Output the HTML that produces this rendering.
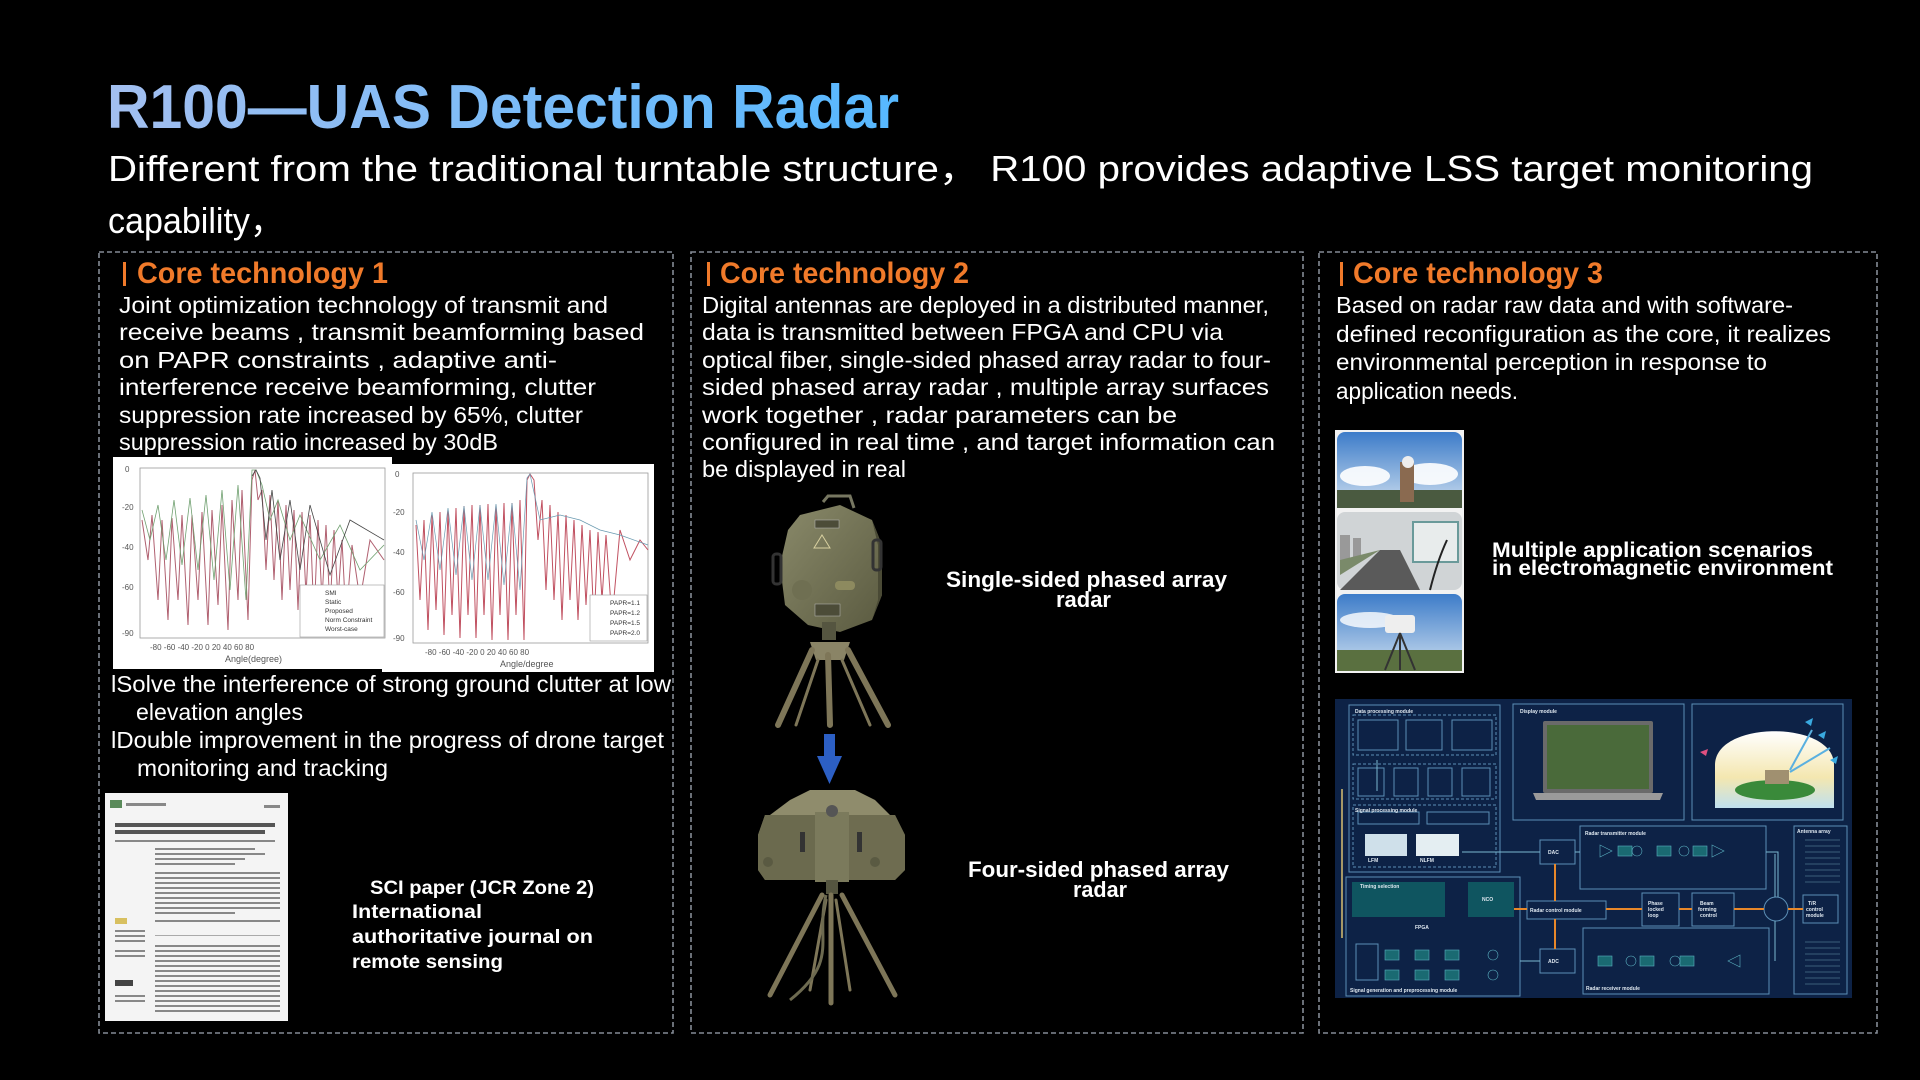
<!DOCTYPE html>
<html><head><meta charset="utf-8"><style>
html,body{margin:0;padding:0;background:#000;}
svg{display:block;}
text{font-family:"Liberation Sans","Noto Sans CJK SC",sans-serif;}
</style></head><body>
<svg width="1920" height="1080" viewBox="0 0 1920 1080" xmlns="http://www.w3.org/2000/svg">
<defs>
<linearGradient id="tg" x1="0" x2="1" y1="0" y2="0"><stop offset="0" stop-color="#a3bff0"/><stop offset="1" stop-color="#56b8ff"/></linearGradient>
<linearGradient id="sky" x1="0" x2="0" y1="0" y2="1"><stop offset="0" stop-color="#3d7cc9"/><stop offset="1" stop-color="#cfe0f0"/></linearGradient>
<linearGradient id="dome" x1="0" x2="0" y1="0" y2="1"><stop offset="0" stop-color="#ffffff"/><stop offset="0.6" stop-color="#f4e7b0"/><stop offset="1" stop-color="#bfe0ee"/></linearGradient>
<linearGradient id="olive" x1="0" x2="1" y1="0" y2="1"><stop offset="0" stop-color="#8a8a6a"/><stop offset="1" stop-color="#5a5a40"/></linearGradient>
</defs>
<rect width="1920" height="1080" fill="#000"/>

<!-- Title -->
<text x="107" y="128" font-size="62" font-weight="bold" fill="url(#tg)" textLength="792" lengthAdjust="spacingAndGlyphs">R100—UAS Detection Radar</text>
<text x="108" y="181" font-size="36" fill="#fff" textLength="1705" lengthAdjust="spacingAndGlyphs">Different from the traditional turntable structure， R100 provides adaptive LSS target monitoring</text>
<text x="108" y="233" font-size="36" fill="#fff" textLength="176" lengthAdjust="spacingAndGlyphs">capability，</text>

<!-- Dashed boxes -->
<g fill="none" stroke="#848b95" stroke-width="1.6" stroke-dasharray="5 3">
<rect x="99" y="252" width="574" height="781"/>
<rect x="691" y="252" width="612" height="781"/>
<rect x="1319" y="252" width="558" height="781"/>
</g>

<!-- Headers -->
<g fill="#f07a2a" font-weight="bold" font-size="30">
<rect x="123" y="262" width="3" height="24"/>
<text x="137" y="283" textLength="251" lengthAdjust="spacingAndGlyphs">Core technology  1</text>
<rect x="707" y="262" width="3" height="24"/>
<text x="720" y="283" textLength="249" lengthAdjust="spacingAndGlyphs">Core technology 2</text>
<rect x="1340" y="262" width="3" height="24"/>
<text x="1353" y="283" textLength="250" lengthAdjust="spacingAndGlyphs">Core technology 3</text>
</g>

<!-- Box1 body -->
<g fill="#fff" font-size="23" lengthAdjust="spacingAndGlyphs">
<text x="119" y="313" textLength="489" lengthAdjust="spacingAndGlyphs">Joint optimization technology of transmit and</text>
<text x="119" y="340" textLength="525" lengthAdjust="spacingAndGlyphs">receive  beams ,  transmit  beamforming  based</text>
<text x="119" y="368" textLength="438" lengthAdjust="spacingAndGlyphs">on  PAPR  constraints ,  adaptive  anti-</text>
<text x="119" y="395" textLength="477" lengthAdjust="spacingAndGlyphs">interference  receive  beamforming, clutter</text>
<text x="119" y="423" textLength="464" lengthAdjust="spacingAndGlyphs">suppression  rate  increased  by  65%, clutter</text>
<text x="119" y="450" textLength="379" lengthAdjust="spacingAndGlyphs">suppression ratio increased by 30dB</text>

<text x="111" y="692" textLength="560" lengthAdjust="spacingAndGlyphs">lSolve the interference of strong ground clutter at low</text>
<text x="136" y="720" textLength="167" lengthAdjust="spacingAndGlyphs">elevation angles</text>
<text x="111" y="748" textLength="553" lengthAdjust="spacingAndGlyphs">lDouble improvement  in the progress of drone target</text>
<text x="137" y="776" textLength="251" lengthAdjust="spacingAndGlyphs">monitoring and tracking</text>
</g>

<!-- Charts -->
<rect x="113" y="457" width="279" height="212" fill="#fff"/>
<rect x="382" y="464" width="272" height="208" fill="#fff"/>
<g fill="none" stroke="#999" stroke-width="0.8">
<rect x="140" y="468" width="245" height="170"/>
<rect x="413" y="473" width="235" height="170"/>
</g>
<g font-size="8" fill="#555" font-family="Liberation Serif">
<text x="125" y="472">0</text><text x="122" y="510">-20</text><text x="122" y="550">-40</text><text x="122" y="590">-60</text><text x="122" y="636">-90</text>
<text x="395" y="477">0</text><text x="393" y="515">-20</text><text x="393" y="555">-40</text><text x="393" y="595">-60</text><text x="393" y="641">-90</text>
<text x="150" y="650">-80  -60  -40  -20   0   20   40   60   80</text>
<text x="225" y="662" font-size="9">Angle(degree)</text>
<text x="425" y="655">-80  -60  -40  -20   0   20   40   60   80</text>
<text x="500" y="667" font-size="9">Angle/degree</text>
</g>
<polyline fill="none" stroke="#b06070" stroke-width="1" points="142,520 148,560 152,515 158,600 162,520 168,620 172,518 178,600 182,515 188,625 192,515 198,600 202,512 208,625 212,510 218,605 222,505 228,630 232,500 238,600 242,490 248,620 252,480 255,470 258,500 262,490 266,570 270,495 274,580 278,500 282,600 286,505 290,590 294,510 298,610 302,512 306,595 310,515 314,620 318,520 322,600 326,525 330,610 334,530 338,600 342,540 346,620 352,545 360,600 370,540 384,560"/>
<polyline fill="none" stroke="#70a070" stroke-width="0.8" points="142,510 150,540 158,505 166,560 174,500 182,565 190,498 198,570 206,495 214,580 222,490 230,590 238,485 246,600 252,470 256,470 262,485 270,520 278,500 290,540 300,515 320,560 340,525 360,570 384,545"/>
<polyline fill="none" stroke="#444" stroke-width="0.8" points="252,476 256,470 260,478 266,540 272,490 280,560 290,500 300,570 310,505 330,575 350,520 384,540"/>
<rect x="300" y="585" width="84" height="52" fill="#fff" stroke="#999" stroke-width="0.6"/>
<g font-size="6.5" fill="#333" font-family="Liberation Serif"><text x="325" y="595">SMI</text><text x="325" y="604">Static</text><text x="325" y="613">Proposed</text><text x="325" y="622">Norm Constraint</text><text x="325" y="631">Worst-case</text></g>
<polyline fill="none" stroke="#c05060" stroke-width="1" points="416,525 420,600 424,520 428,630 432,515 436,610 440,512 444,635 448,510 452,615 456,508 460,638 464,506 468,615 472,505 476,638 480,505 484,615 488,504 492,640 496,505 500,615 504,503 508,640 512,503 516,615 520,500 524,640 527,480 530,474 534,480 538,540 542,500 546,590 550,505 554,600 558,512 562,620 566,515 570,600 574,520 578,620 582,525 586,605 590,530 594,625 598,532 602,600 606,535 612,620 620,530 630,560 640,540 648,550"/>
<polyline fill="none" stroke="#6a9ab0" stroke-width="0.7" points="416,520 424,560 432,512 440,570 448,508 456,575 464,506 472,580 480,505 488,580 496,504 504,585 512,503 520,590 527,478 530,474 540,520 560,515 580,520 600,530 620,535 648,545"/>
<rect x="590" y="595" width="57" height="46" fill="#fff" stroke="#999" stroke-width="0.6"/>
<g font-size="6.5" fill="#333" font-family="Liberation Serif"><text x="610" y="605">PAPR=1.1</text><text x="610" y="615">PAPR=1.2</text><text x="610" y="625">PAPR=1.5</text><text x="610" y="635">PAPR=2.0</text></g>

<!-- Paper -->
<rect x="105" y="793" width="183" height="228" fill="#f4f4f4"/>
<rect x="110" y="800" width="12" height="8" fill="#5a8a5a"/>
<g fill="#888">
<rect x="126" y="803" width="40" height="3"/><rect x="264" y="805" width="16" height="3"/>
<rect x="115" y="823" width="160" height="4" fill="#555"/><rect x="115" y="830" width="150" height="4" fill="#555"/>
<rect x="115" y="840" width="160" height="2"/>
<rect x="155" y="848" width="100" height="2"/><rect x="155" y="853" width="110" height="2"/><rect x="155" y="858" width="90" height="2"/><rect x="155" y="863" width="80" height="2"/>
<rect x="155" y="872" width="125" height="2"/><rect x="155" y="877" width="125" height="2"/><rect x="155" y="882" width="125" height="2"/><rect x="155" y="887" width="125" height="2"/><rect x="155" y="892" width="125" height="2"/><rect x="155" y="897" width="125" height="2"/><rect x="155" y="902" width="125" height="2"/><rect x="155" y="907" width="125" height="2"/><rect x="155" y="912" width="80" height="2"/>
<rect x="155" y="920" width="125" height="2"/>
<rect x="115" y="918" width="12" height="6" fill="#d8c060"/>
<rect x="115" y="930" width="30" height="2"/><rect x="115" y="935" width="30" height="2"/><rect x="115" y="940" width="30" height="2"/>
<rect x="155" y="935" width="125" height="1" fill="#aaa"/>
<rect x="155" y="945" width="125" height="2"/><rect x="155" y="950" width="125" height="2"/><rect x="155" y="955" width="125" height="2"/><rect x="155" y="960" width="125" height="2"/><rect x="155" y="965" width="125" height="2"/><rect x="155" y="970" width="125" height="2"/><rect x="155" y="975" width="125" height="2"/><rect x="155" y="980" width="125" height="2"/><rect x="155" y="985" width="125" height="2"/><rect x="155" y="990" width="125" height="2"/><rect x="155" y="995" width="125" height="2"/><rect x="155" y="1000" width="125" height="2"/><rect x="155" y="1005" width="125" height="2"/><rect x="155" y="1010" width="125" height="2"/>
<rect x="115" y="980" width="18" height="6" fill="#444"/>
<rect x="115" y="950" width="30" height="2"/><rect x="115" y="955" width="30" height="2"/><rect x="115" y="995" width="30" height="2"/><rect x="115" y="1000" width="30" height="2"/>
</g>
<g fill="#fff" font-size="19" font-weight="bold" font-family="DejaVu Sans">
<text x="370" y="894" textLength="224" lengthAdjust="spacingAndGlyphs">SCI  paper  (JCR Zone  2)</text>
<text x="352" y="918" textLength="130" lengthAdjust="spacingAndGlyphs">International</text>
<text x="352" y="943" textLength="241" lengthAdjust="spacingAndGlyphs">authoritative  journal  on</text>
<text x="352" y="968" textLength="151" lengthAdjust="spacingAndGlyphs">remote  sensing</text>
</g>

<!-- Box2 body -->
<g fill="#fff" font-size="23">
<text x="702" y="313" textLength="567" lengthAdjust="spacingAndGlyphs">Digital antennas are deployed in a distributed  manner,</text>
<text x="702" y="340" textLength="521" lengthAdjust="spacingAndGlyphs">data  is transmitted  between  FPGA  and  CPU  via</text>
<text x="702" y="368" textLength="569" lengthAdjust="spacingAndGlyphs">optical fiber,  single-sided phased array radar to four-</text>
<text x="702" y="395" textLength="567" lengthAdjust="spacingAndGlyphs">sided phased array  radar ,  multiple  array  surfaces</text>
<text x="702" y="423" textLength="475" lengthAdjust="spacingAndGlyphs">work  together ,  radar  parameters  can  be</text>
<text x="702" y="450" textLength="573" lengthAdjust="spacingAndGlyphs">configured  in  real  time ,  and  target  information can</text>
<text x="702" y="477" textLength="204" lengthAdjust="spacingAndGlyphs">be displayed in real</text>
</g>

<!-- Single radar -->
<g>
<path d="M823 502 L828 496 L850 496 L854 508" fill="none" stroke="#777761" stroke-width="3"/>
<path d="M800 515 L840 505 L872 520 L882 545 L882 595 L872 620 L840 632 L808 625 L785 605 L780 565 L788 530 Z" fill="url(#olive)"/>
<path d="M872 520 L882 545 L882 595 L872 620 L878 600 L878 545 Z" fill="#4a4a35"/>
<rect x="773" y="554" width="8" height="30" rx="3" fill="none" stroke="#333" stroke-width="3"/>
<rect x="873" y="540" width="8" height="30" rx="3" fill="none" stroke="#333" stroke-width="3"/>
<circle cx="802" cy="590" r="10" fill="#6f6f52"/>
<rect x="835" y="581" width="20" height="9" rx="4" fill="#8d8a5f"/>
<path d="M822 535 L830 548 L814 548 Z" fill="none" stroke="#d8d0a0" stroke-width="1"/>
<rect x="815" y="604" width="25" height="12" fill="#4c4c38" stroke="#bbb" stroke-width="0.5"/>
<rect x="815" y="520" width="24" height="8" fill="#4c4c38" stroke="#bbb" stroke-width="0.5"/>
<rect x="822" y="622" width="14" height="18" fill="#555540"/>
<path d="M810 642 L850 642 L844 660 L816 660 Z" fill="#8a8466"/>
<g stroke="#7e7658" stroke-width="6" stroke-linecap="round">
<line x1="812" y1="650" x2="778" y2="725"/><line x1="828" y1="655" x2="830" y2="725"/><line x1="848" y1="650" x2="888" y2="725"/>
<line x1="818" y1="660" x2="796" y2="725" stroke-width="3"/><line x1="842" y1="660" x2="870" y2="725" stroke-width="3"/>
</g>
</g>
<!-- Arrow -->
<rect x="824" y="734" width="11" height="24" fill="#2c5fc4"/>
<path d="M817 756 L842 756 L829.5 784 Z" fill="#2c5fc4"/>

<!-- Four-sided radar -->
<g>
<path d="M790 800 L810 790 L855 790 L875 800 L890 815 L770 815 Z" fill="#8f8c6c"/>
<path d="M765 815 L895 815 L905 835 L905 870 L895 880 L765 880 L758 870 L758 835 Z" fill="url(#olive)"/>
<path d="M765 815 L820 815 L820 880 L765 880 L758 870 L758 835 Z" fill="#6b6a4e"/>
<path d="M845 815 L895 815 L905 835 L905 870 L895 880 L845 880 Z" fill="#6e6c50"/>
<rect x="815" y="812" width="34" height="70" fill="#7b7a5c"/>
<circle cx="832" cy="811" r="6" fill="#555"/>
<circle cx="768" cy="862" r="5" fill="#5a5a42"/><circle cx="875" cy="862" r="5" fill="#5a5a42"/>
<rect x="800" y="832" width="5" height="20" fill="#333"/><rect x="857" y="832" width="5" height="20" fill="#333"/>
<rect x="826" y="880" width="12" height="14" fill="#555540"/>
<g stroke="#7e7658" stroke-width="5" stroke-linecap="round">
<line x1="822" y1="895" x2="770" y2="995"/><line x1="831" y1="895" x2="831" y2="1003"/><line x1="842" y1="895" x2="895" y2="995"/>
<line x1="826" y1="900" x2="810" y2="990" stroke-width="3"/><line x1="836" y1="900" x2="850" y2="990" stroke-width="3"/>
</g>
<path d="M826 895 C 815 940, 840 960, 790 1000" fill="none" stroke="#6d6a50" stroke-width="3"/>
</g>

<g fill="#fff" font-size="22" font-weight="bold">
<text x="946" y="587" textLength="281" lengthAdjust="spacingAndGlyphs">Single-sided  phased array</text>
<text x="1056" y="607" textLength="55" lengthAdjust="spacingAndGlyphs">radar</text>
<text x="968" y="877" textLength="261" lengthAdjust="spacingAndGlyphs">Four-sided  phased array</text>
<text x="1073" y="897" textLength="54" lengthAdjust="spacingAndGlyphs">radar</text>
</g>

<!-- Box3 body -->
<g fill="#fff" font-size="23">
<text x="1336" y="313" textLength="457" lengthAdjust="spacingAndGlyphs">Based on radar raw data and with software-</text>
<text x="1336" y="342" textLength="495" lengthAdjust="spacingAndGlyphs">defined     reconfiguration as the core, it realizes</text>
<text x="1336" y="370" textLength="431" lengthAdjust="spacingAndGlyphs">environmental  perception in response to</text>
<text x="1336" y="399" textLength="182" lengthAdjust="spacingAndGlyphs">application needs.</text>
</g>

<!-- Photos -->
<rect x="1335" y="430" width="129" height="243" fill="#f2f2f2"/>
<rect x="1337" y="432" width="125" height="76" rx="8" fill="url(#sky)"/>
<ellipse cx="1365" cy="476" rx="25" ry="10" fill="#fff" opacity="0.9"/><ellipse cx="1430" cy="474" rx="28" ry="11" fill="#fff" opacity="0.9"/>
<rect x="1337" y="490" width="125" height="18" fill="#4a5a40"/>
<rect x="1400" y="462" width="14" height="40" fill="#8a6a50"/><circle cx="1408" cy="462" r="6" fill="#eee"/>
<rect x="1337" y="512" width="125" height="78" rx="8" fill="#d0d4d6"/>
<rect x="1340" y="535" width="10" height="25" fill="#999"/><rect x="1353" y="538" width="8" height="22" fill="#999"/>
<path d="M1340 590 L1380 550 L1400 550 L1420 590 Z" fill="#5a5a5a"/>
<path d="M1340 575 L1380 550 L1340 560 Z" fill="#7a8a6a"/>
<rect x="1413" y="522" width="45" height="40" fill="#e8ecec" stroke="#6a9a9a" stroke-width="2"/>
<path d="M1430 590 C 1435 570, 1440 555, 1447 540" stroke="#222" stroke-width="2" fill="none"/>
<rect x="1337" y="594" width="125" height="77" rx="8" fill="url(#sky)"/>
<ellipse cx="1370" cy="620" rx="30" ry="8" fill="#fff" opacity="0.8"/>
<rect x="1337" y="650" width="125" height="21" fill="#5a7040"/>
<rect x="1385" y="615" width="30" height="18" rx="3" fill="#eee"/>
<path d="M1400 633 L1385 670 M1400 633 L1400 670 M1400 633 L1415 670" stroke="#333" stroke-width="2"/>

<g fill="#fff" font-size="21" font-weight="bold">
<text x="1492" y="557" textLength="321" lengthAdjust="spacingAndGlyphs">Multiple application scenarios</text>
<text x="1492" y="575" textLength="341" lengthAdjust="spacingAndGlyphs">in electromagnetic environment</text>
</g>

<!-- Block diagram -->
<rect x="1335" y="699" width="517" height="299" fill="#0d2246"/>
<g fill="none" stroke="#5c8fb5" stroke-width="1">
<rect x="1349" y="705" width="151" height="167"/>
<rect x="1513" y="704" width="171" height="116"/>
<rect x="1692" y="704" width="151" height="116"/>
<rect x="1346" y="877" width="174" height="119"/>
<rect x="1580" y="826" width="186" height="63"/>
<rect x="1583" y="928" width="186" height="66"/>
<rect x="1794" y="826" width="53" height="168"/>
<rect x="1540" y="840" width="35" height="24"/>
<rect x="1540" y="949" width="35" height="24"/>
<rect x="1527" y="901" width="79" height="18"/>
<rect x="1642" y="893" width="37" height="33"/>
<rect x="1692" y="893" width="42" height="33"/>
<rect x="1803" y="895" width="35" height="28"/>
<circle cx="1776" cy="909" r="12"/>
<g stroke-dasharray="3 2">
<rect x="1353" y="715" width="143" height="40"/>
<rect x="1353" y="764" width="143" height="35"/>
<rect x="1353" y="805" width="143" height="62"/>
</g>
<rect x="1358" y="720" width="40" height="30"/><rect x="1406" y="720" width="36" height="30"/><rect x="1452" y="720" width="40" height="30"/>
<rect x="1358" y="768" width="26" height="28"/><rect x="1394" y="768" width="24" height="28"/><rect x="1428" y="768" width="24" height="28"/><rect x="1462" y="768" width="28" height="28"/>
<rect x="1358" y="812" width="61" height="12"/><rect x="1427" y="812" width="62" height="12"/>
<rect x="1356" y="944" width="22" height="36"/>
</g>
<rect x="1365" y="834" width="42" height="22" fill="#cfe0ea"/>
<rect x="1416" y="834" width="43" height="22" fill="#e4eef2"/>
<rect x="1352" y="882" width="93" height="35" fill="#0f5560"/>
<rect x="1468" y="882" width="46" height="35" fill="#0f5560"/>
<!-- laptop -->
<rect x="1543" y="721" width="110" height="72" rx="2" fill="#6a6a6a"/>
<rect x="1547" y="725" width="102" height="64" fill="#4a6a3a"/>
<path d="M1533 793 L1663 793 L1660 800 L1536 800 Z" fill="#9a9a9a"/>
<!-- dome -->
<path d="M1715 808 L1715 765 C 1715 720, 1834 720, 1834 765 L1834 808 Z" fill="url(#dome)"/>
<ellipse cx="1775" cy="790" rx="40" ry="10" fill="#3a8a3a"/>
<rect x="1765" y="770" width="24" height="14" fill="#a09070"/>
<g stroke="#5ab0e0" stroke-width="2"><line x1="1790" y1="770" x2="1812" y2="730"/><line x1="1790" y1="772" x2="1830" y2="748"/></g>
<g fill="#3aaae0"><path d="M1805 722 l8 -4 l-2 8z"/><path d="M1818 735 l8 -4 l-2 8z"/><path d="M1830 760 l8 -4 l-2 8z"/></g>
<path d="M1700 752 l8 -3 l-2 7z" fill="#e05080"/>
<!-- orange control lines -->
<g stroke="#e8882a" stroke-width="2">
<line x1="1514" y1="909" x2="1527" y2="909"/><line x1="1606" y1="909" x2="1642" y2="909"/><line x1="1679" y1="909" x2="1692" y2="909"/><line x1="1734" y1="909" x2="1764" y2="909"/><line x1="1788" y1="909" x2="1803" y2="909"/>
<line x1="1555" y1="864" x2="1555" y2="901"/><line x1="1555" y1="919" x2="1555" y2="949"/>
</g>
<g stroke="#7ab8d0" stroke-width="1" fill="none">
<line x1="1575" y1="852" x2="1580" y2="852"/><line x1="1462" y1="852" x2="1540" y2="852"/>
<line x1="1520" y1="961" x2="1540" y2="961"/>
<line x1="1775" y1="854" x2="1775" y2="897"/><line x1="1775" y1="921" x2="1775" y2="961"/>
<polyline points="1766,852 1778,852 1778,897"/>
<line x1="1377" y1="791" x2="1377" y2="760"/>
</g>
<g fill="#1a6a72" stroke="#5ab0c0" stroke-width="0.6">
<rect x="1618" y="846" width="14" height="10"/><rect x="1657" y="846" width="14" height="10"/><rect x="1693" y="846" width="14" height="10"/>
<rect x="1598" y="956" width="14" height="10"/><rect x="1640" y="956" width="14" height="10"/><rect x="1680" y="956" width="14" height="10"/>
<rect x="1385" y="950" width="14" height="10"/><rect x="1415" y="950" width="14" height="10"/><rect x="1445" y="950" width="14" height="10"/>
<rect x="1385" y="970" width="14" height="10"/><rect x="1415" y="970" width="14" height="10"/><rect x="1445" y="970" width="14" height="10"/>
</g>
<g fill="none" stroke="#5ab0c0" stroke-width="0.6">
<circle cx="1637" cy="851" r="5"/><circle cx="1684" cy="851" r="5"/><circle cx="1631" cy="961" r="5"/><circle cx="1675" cy="961" r="5"/>
<circle cx="1493" cy="955" r="5"/><circle cx="1493" cy="975" r="5"/>
<path d="M1600 845 l12 6 l-12 6z"/><path d="M1712 845 l12 6 l-12 6z"/><path d="M1740 955 l-12 6 l12 6z"/>
</g>
<g stroke="#6a9ab0" stroke-width="0.5">
<line x1="1805" y1="840" x2="1840" y2="840"/><line x1="1805" y1="846" x2="1840" y2="846"/><line x1="1805" y1="852" x2="1840" y2="852"/><line x1="1805" y1="858" x2="1840" y2="858"/><line x1="1805" y1="864" x2="1840" y2="864"/><line x1="1805" y1="870" x2="1840" y2="870"/><line x1="1805" y1="876" x2="1840" y2="876"/><line x1="1805" y1="882" x2="1840" y2="882"/>
<line x1="1805" y1="942" x2="1840" y2="942"/><line x1="1805" y1="948" x2="1840" y2="948"/><line x1="1805" y1="954" x2="1840" y2="954"/><line x1="1805" y1="960" x2="1840" y2="960"/><line x1="1805" y1="966" x2="1840" y2="966"/><line x1="1805" y1="972" x2="1840" y2="972"/><line x1="1805" y1="978" x2="1840" y2="978"/><line x1="1805" y1="984" x2="1840" y2="984"/>
</g>
<line x1="1342" y1="789" x2="1342" y2="938" stroke="#d8c070" stroke-width="1.5"/>
<g fill="#dfe8f0" font-size="5" font-weight="bold" font-family="Liberation Serif">
<text x="1355" y="713">Data processing module</text><text x="1520" y="713">Display module</text>
<text x="1355" y="812">Signal processing module</text><text x="1585" y="835">Radar transmitter module</text>
<text x="1586" y="990">Radar receiver module</text><text x="1350" y="992">Signal generation and preprocessing module</text>
<text x="1548" y="854">DAC</text><text x="1548" y="963">ADC</text><text x="1530" y="912">Radar control module</text>
<text x="1482" y="901">NCO</text><text x="1415" y="929">FPGA</text><text x="1797" y="833">Antenna array</text>
<text x="1648" y="905">Phase</text><text x="1648" y="911">locked</text><text x="1648" y="917">loop</text>
<text x="1700" y="905">Beam</text><text x="1698" y="911">forming</text><text x="1700" y="917">control</text>
<text x="1808" y="905">T/R</text><text x="1806" y="911">control</text><text x="1806" y="917">module</text>
<text x="1368" y="862">LFM</text><text x="1420" y="862">NLFM</text><text x="1360" y="888">Timing selection</text>
</g>
</svg>
</body></html>
